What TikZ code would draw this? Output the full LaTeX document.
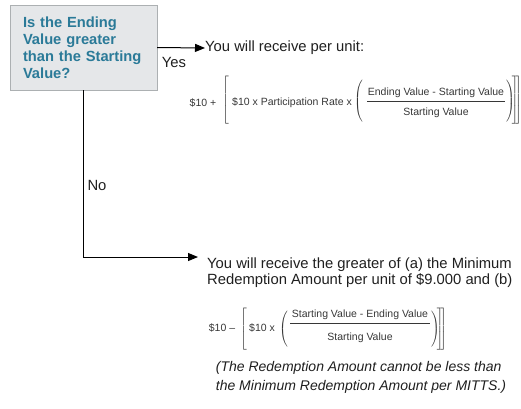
\documentclass[tikz,border=0pt]{standalone}
\usepackage{fontspec}
\setmainfont{Liberation Sans}
\usetikzlibrary{arrows.meta,positioning}

\definecolor{qblue}{RGB}{42,122,152}
\definecolor{qfill}{RGB}{229,231,233}
\definecolor{qedge}{RGB}{172,176,178}
\definecolor{ftext}{RGB}{55,55,55}
\delimiterfactor=1000
\delimitershortfall=0pt
\newcommand\openfence[2]{$\left#1\vcenter{\hbox{\rule{0pt}{#2}}}\right.$}
\newcommand\closefence[2]{$\left.\vcenter{\hbox{\rule{0pt}{#2}}}\right#1$}

\begin{document}
\begin{tikzpicture}[x=1pt, y=-1pt, > = {Triangle[length=10pt,width=8pt]},
  question/.style = {draw=qedge, fill=qfill, text=qblue, align=left, text width=121pt, minimum width=147pt, minimum height=85pt, inner sep=0pt, font=\fontsize{14.7}{17}\selectfont\bfseries},
  answer/.style = {align=left, inner sep=0pt, text=black!88, font=\fontsize{14.8}{15.5}\selectfont},
  formula/.style = {inner sep=0pt, text=ftext, font=\fontsize{10.5}{12}\selectfont},
  fracline/.style = {draw=ftext, line width=0.8pt},
  flow/.style = {->, line width=1pt}]
    \useasboundingbox (0,0) rectangle (521,408);

    % decision
    \node[question] (ask) at (83.5,47.5) {Is the Ending\\Value greater\\than the Starting\\Value?};

    % yes branch
    \node[answer, anchor=west] (perunit) at (205,48) {You will receive per unit:};
    \draw[flow] (ask.east) -- (perunit.west);
    \node[answer] (yes) at (174,62) {Yes};

    \node[formula] (tenplus) at (203,103) {\$10 +};
    \node[formula] (lbrA) at (226,100) {\openfence[{44pt}};
    \node[formula, anchor=west] (partrate) at (232,103) {\$10 x Participation Rate x};
    \node[formula] (lparA) at (359,101) {\openfence({42pt}};
    \node[formula] (endnum) at (436,93) {Ending Value - Starting Value};
    \node[formula] (startden) at (436,113) {Starting Value};
    \draw[fracline] (367,101) -- (505,101);
    \node[formula] (rparA) at (510,101) {\closefence){42pt}};
    \node[formula] (rbrA) at (514.5,100) {\closefence]{44pt}};
    \node[formula] (rbrAA) at (518,100) {\closefence]{44pt}};

    % no branch
    \coordinate (noend) at (198,257);
    \draw[flow] (ask.south) |- (noend);
    \node[answer] (no) at (97,185) {No};
    \node[answer, anchor=north west] (greater) at (207,258) {You will receive the greater of (a) the Minimum\\Redemption Amount per unit of \$9.000 and (b)};

    \node[formula] (tenminus) at (222,328) {\$10 –};
    \node[formula] (lbrB) at (244,329) {\openfence[{38pt}};
    \node[formula, anchor=west] (tenx) at (249,328) {\$10 x};
    \node[formula] (lparB) at (284,329) {\openfence({34pt}};
    \node[formula] (startnum) at (360,315) {Starting Value - Ending Value};
    \node[formula] (startden2) at (360,338) {Starting Value};
    \draw[fracline] (290,323) -- (430,323);
    \node[formula] (rparB) at (435,329) {\closefence){34pt}};
    \node[formula] (rbrB) at (439.5,329) {\closefence]{38pt}};
    \node[formula] (rbrBB) at (443,329) {\closefence]{38pt}};

    \node[answer, font=\fontsize{14}{19}\selectfont\itshape] (note) at (361,377.5) {(The Redemption Amount cannot be less than\\the Minimum Redemption Amount per MITTS.)};
\end{tikzpicture}
\end{document}
